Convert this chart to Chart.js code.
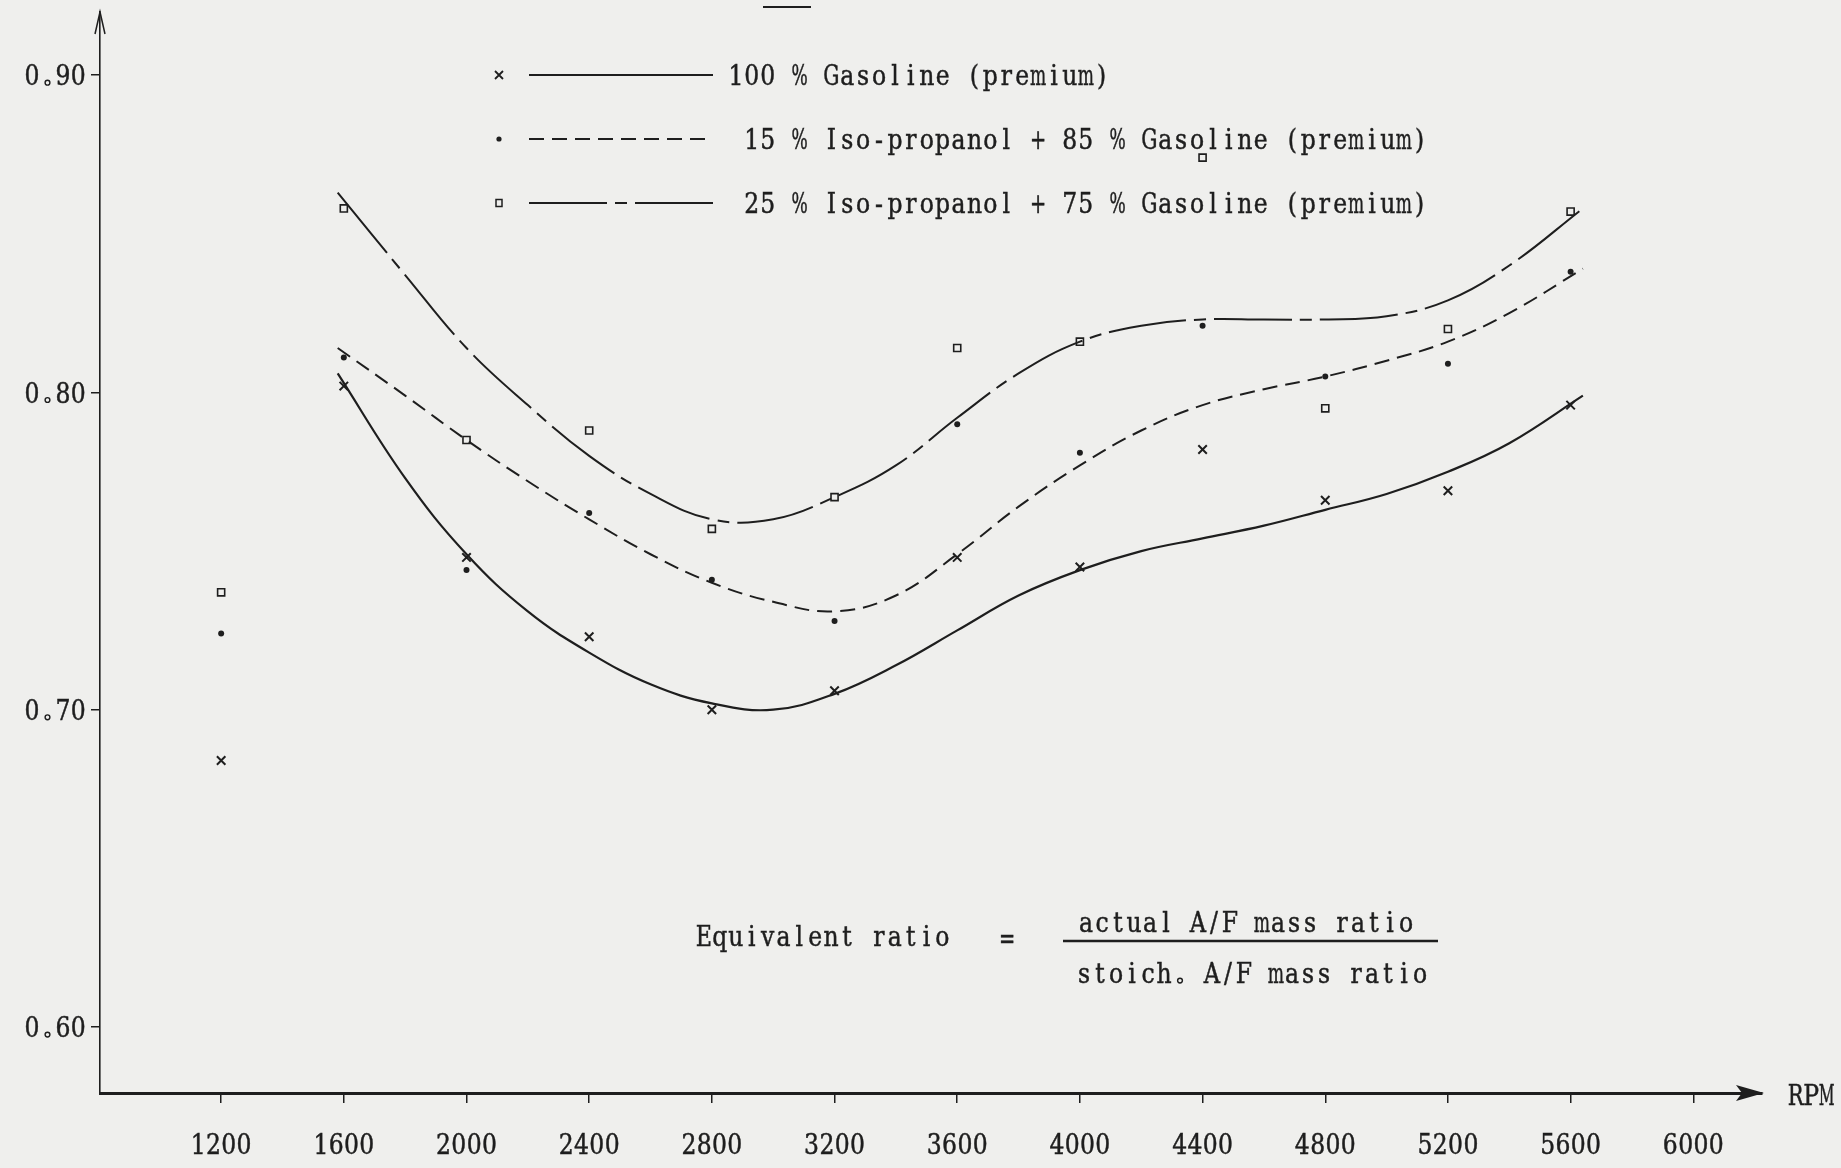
<!DOCTYPE html>
<html>
<head>
<meta charset="utf-8">
<title>Equivalent ratio vs RPM</title>
<script src="https://cdn.jsdelivr.net/npm/chart.js@4.4.1/dist/chart.umd.min.js"></script>
<style>
  html, body { margin: 0; padding: 0; background: #efefed; }
  #wrap { width: 1841px; height: 1168px; position: relative; }
</style>
</head>
<body>
<div id="wrap"><canvas id="chart" width="1841" height="1168"></canvas></div>
<script>
// measured points (x = RPM, y = equivalent ratio)
const rpm = [1200, 1600, 2000, 2400, 2800, 3200, 3600, 4000, 4400, 4800, 5200, 5600];
const gasoline = [0.684, 0.802, 0.748, 0.723, 0.700, 0.706, 0.748, 0.745, 0.782, 0.766, 0.769, 0.796];
const iso15 = [0.724, 0.811, 0.744, 0.762, 0.741, 0.728, 0.790, 0.781, 0.821, 0.805, 0.809, 0.838];
const iso25 = [0.737, 0.858, 0.785, 0.788, 0.757, 0.767, 0.814, 0.816, 0.874, 0.795, 0.820, 0.857];

// hand-drawn fitted curves
const fitRpm = [1580, 1800, 2000, 2200, 2400, 2600, 2800, 3000, 3200, 3400, 3600, 3800, 4000, 4200, 4400, 4600, 4800, 5000, 5200, 5400, 5640];
const fitGasoline = [0.806, 0.773, 0.749, 0.731, 0.718, 0.708, 0.702, 0.700, 0.705, 0.714, 0.725, 0.736, 0.744, 0.750, 0.754, 0.758, 0.763, 0.768, 0.775, 0.784, 0.799];
const fitIso15 = [0.814, 0.799, 0.785, 0.772, 0.760, 0.749, 0.740, 0.734, 0.731, 0.736, 0.749, 0.764, 0.777, 0.788, 0.796, 0.801, 0.805, 0.810, 0.816, 0.825, 0.839];
const fitIso25 = [0.863, 0.837, 0.814, 0.796, 0.780, 0.768, 0.760, 0.760, 0.767, 0.777, 0.792, 0.806, 0.816, 0.821, 0.823, 0.823, 0.823, 0.824, 0.829, 0.840, 0.858];

const xTicks = [1200, 1600, 2000, 2400, 2800, 3200, 3600, 4000, 4400, 4800, 5200, 5600, 6000];
const yTicks = [0.60, 0.70, 0.80, 0.90];

const legendLabels = [
  "100 % Gasoline (premium)",
  " 15 % Iso-propanol + 85 % Gasoline (premium)",
  " 25 % Iso-propanol + 75 % Gasoline (premium)",
];

const INK = "#1e1e1e";
const FONT = "DejaVu Serif, Liberation Serif, serif";
const FONT_SIZE = 28;
const DASH15 = [15, 8];
const DASH25 = [78, 8, 12, 8];

function pts(xs, ys) {
  return xs.map((x, i) => ({ x: x, y: ys[i] }));
}

// typewriter text: every character sits in a fixed-width cell, glyphs squeezed to fit
function typeText(ctx, str, x, y, charW, align) {
  const w = str.length * charW;
  let left = x;
  if (align === "right") left = x - w;
  else if (align === "center") left = x - w / 2;
  const base = y + FONT_SIZE * 0.36;
  ctx.save();
  ctx.font = FONT_SIZE + "px " + FONT;
  ctx.textBaseline = "alphabetic";
  ctx.textAlign = "center";
  ctx.fillStyle = INK;
  ctx.strokeStyle = INK;
  for (let i = 0; i < str.length; i++) {
    const c = str[i];
    const cx = left + (i + 0.5) * charW;
    if (c === " ") continue;
    if (c === ".") {
      // the typewriter prints the decimal point as a small ring
      ctx.lineWidth = 1.4;
      ctx.beginPath();
      ctx.arc(cx, base - 2.5, 2.4, 0, Math.PI * 2);
      ctx.stroke();
      continue;
    }
    const gw = ctx.measureText(c).width;
    const sx = Math.min(0.84, (charW * 1.02) / gw);
    ctx.save();
    ctx.translate(cx, base);
    ctx.scale(sx, 1);
    ctx.lineWidth = 0.5;
    ctx.fillText(c, 0, 0);
    ctx.strokeText(c, 0, 0);
    ctx.restore();
  }
  ctx.restore();
}

function marker(ctx, kind, x, y) {
  ctx.save();
  ctx.strokeStyle = INK;
  ctx.fillStyle = INK;
  ctx.lineWidth = 1.8;
  if (kind === "x") {
    ctx.beginPath();
    ctx.moveTo(x - 4, y - 4); ctx.lineTo(x + 4, y + 4);
    ctx.moveTo(x + 4, y - 4); ctx.lineTo(x - 4, y + 4);
    ctx.stroke();
  } else if (kind === "dot") {
    ctx.beginPath();
    ctx.arc(x, y, 2.6, 0, Math.PI * 2);
    ctx.fill();
  } else {
    ctx.lineWidth = 1.5;
    ctx.strokeRect(x - 3, y - 3.5, 6, 7);
  }
  ctx.restore();
}

const decorations = {
  id: "decorations",
  afterDraw(chart) {
    const ctx = chart.ctx;
    const a = chart.chartArea;
    const xs = chart.scales.x;
    const ys = chart.scales.y;

    // y axis arrow head (open)
    ctx.save();
    ctx.strokeStyle = INK;
    ctx.lineWidth = 1.5;
    ctx.beginPath();
    ctx.moveTo(a.left - 5, a.top + 22);
    ctx.lineTo(a.left, a.top);
    ctx.lineTo(a.left + 5, a.top + 22);
    ctx.stroke();

    // x axis arrow head (filled)
    ctx.fillStyle = INK;
    ctx.beginPath();
    ctx.moveTo(a.right + 2, a.bottom);
    ctx.lineTo(a.right - 26, a.bottom - 8);
    ctx.lineTo(a.right - 20, a.bottom);
    ctx.lineTo(a.right - 26, a.bottom + 8);
    ctx.closePath();
    ctx.fill();

    // stray stroke at the top edge of the scan
    ctx.lineWidth = 2;
    ctx.beginPath();
    ctx.moveTo(763, 7);
    ctx.lineTo(811, 7);
    ctx.stroke();
    ctx.restore();

    // tick labels
    yTicks.forEach((v) => {
      typeText(ctx, v.toFixed(2), a.left - 14, ys.getPixelForValue(v), 15.4, "right");
    });
    xTicks.forEach((v) => {
      typeText(ctx, String(v), xs.getPixelForValue(v), 1144, 15.3, "center");
    });
    typeText(ctx, "RPM", 1788, a.bottom + 2, 15.5, "left");

    // legend
    const rowsY = [75, 139, 203];
    const kinds = ["x", "dot", "sq"];
    const dashes = [[], DASH15, DASH25];
    rowsY.forEach((y, i) => {
      marker(ctx, kinds[i], 499, y);
      ctx.save();
      ctx.strokeStyle = INK;
      ctx.lineWidth = 2;
      ctx.setLineDash(dashes[i]);
      ctx.beginPath();
      ctx.moveTo(529, y);
      ctx.lineTo(713, y);
      ctx.stroke();
      ctx.restore();
      typeText(ctx, legendLabels[i], 728, y, 15.9, "left");
    });

    // definition of the equivalent ratio
    typeText(ctx, "Equivalent ratio", 696, 936, 15.9, "left");
    typeText(ctx, "=", 1007, 938, 15.9, "center");
    typeText(ctx, "actual A/F mass ratio", 1078, 922, 16, "left");
    typeText(ctx, "stoich. A/F mass ratio", 1076, 973, 16, "left");
    ctx.save();
    ctx.strokeStyle = INK;
    ctx.lineWidth = 2.5;
    ctx.beginPath();
    ctx.moveTo(1063, 941);
    ctx.lineTo(1438, 941);
    ctx.stroke();
    ctx.restore();
  },
};

new Chart(document.getElementById("chart"), {
  type: "scatter",
  data: {
    datasets: [
      {
        label: "100 % Gasoline (premium) - fit",
        data: pts(fitRpm, fitGasoline),
        showLine: true,
        borderColor: INK,
        borderWidth: 2.2,
        pointRadius: 0,
        tension: 0.4,
      },
      {
        label: "15 % Iso-propanol + 85 % Gasoline (premium) - fit",
        data: pts(fitRpm, fitIso15),
        showLine: true,
        borderColor: INK,
        borderWidth: 2,
        borderDash: DASH15,
        pointRadius: 0,
        tension: 0.4,
      },
      {
        label: "25 % Iso-propanol + 75 % Gasoline (premium) - fit",
        data: pts(fitRpm, fitIso25),
        showLine: true,
        borderColor: INK,
        borderWidth: 2,
        borderDash: DASH25,
        pointRadius: 0,
        tension: 0.4,
      },
      {
        label: "100 % Gasoline (premium)",
        data: pts(rpm, gasoline),
        pointStyle: "crossRot",
        pointRadius: 6,
        borderColor: INK,
        pointBorderWidth: 2,
      },
      {
        label: "15 % Iso-propanol + 85 % Gasoline (premium)",
        data: pts(rpm, iso15),
        pointStyle: "circle",
        pointRadius: 3,
        backgroundColor: INK,
        borderColor: INK,
        pointBorderWidth: 0,
      },
      {
        label: "25 % Iso-propanol + 75 % Gasoline (premium)",
        data: pts(rpm, iso25),
        pointStyle: "rect",
        pointRadius: 5,
        backgroundColor: "rgba(0,0,0,0)",
        borderColor: INK,
        pointBorderWidth: 1.6,
      },
    ],
  },
  options: {
    responsive: false,
    animation: false,
    layout: { padding: { top: 12, right: 79, left: 0, bottom: 0 } },
    plugins: {
      legend: { display: false },
      tooltip: { enabled: false },
    },
    scales: {
      x: {
        type: "linear",
        min: 805,
        max: 6224,
        afterFit: (s) => { s.height = 75; },
        afterBuildTicks: (s) => { s.ticks = xTicks.map((v) => ({ value: v })); },
        ticks: { display: false },
        grid: { drawOnChartArea: false, drawTicks: true, tickLength: 10, color: INK, lineWidth: 1.5 },
        border: { color: INK, width: 3 },
      },
      y: {
        type: "linear",
        min: 0.5792,
        max: 0.9199,
        afterFit: (s) => { s.width = 100; },
        afterBuildTicks: (s) => { s.ticks = yTicks.map((v) => ({ value: v })); },
        ticks: { display: false },
        grid: { drawOnChartArea: false, drawTicks: true, tickLength: 9, color: INK, lineWidth: 1.5 },
        border: { color: INK, width: 1.6 },
      },
    },
  },
  plugins: [decorations],
});
</script>
</body>
</html>
